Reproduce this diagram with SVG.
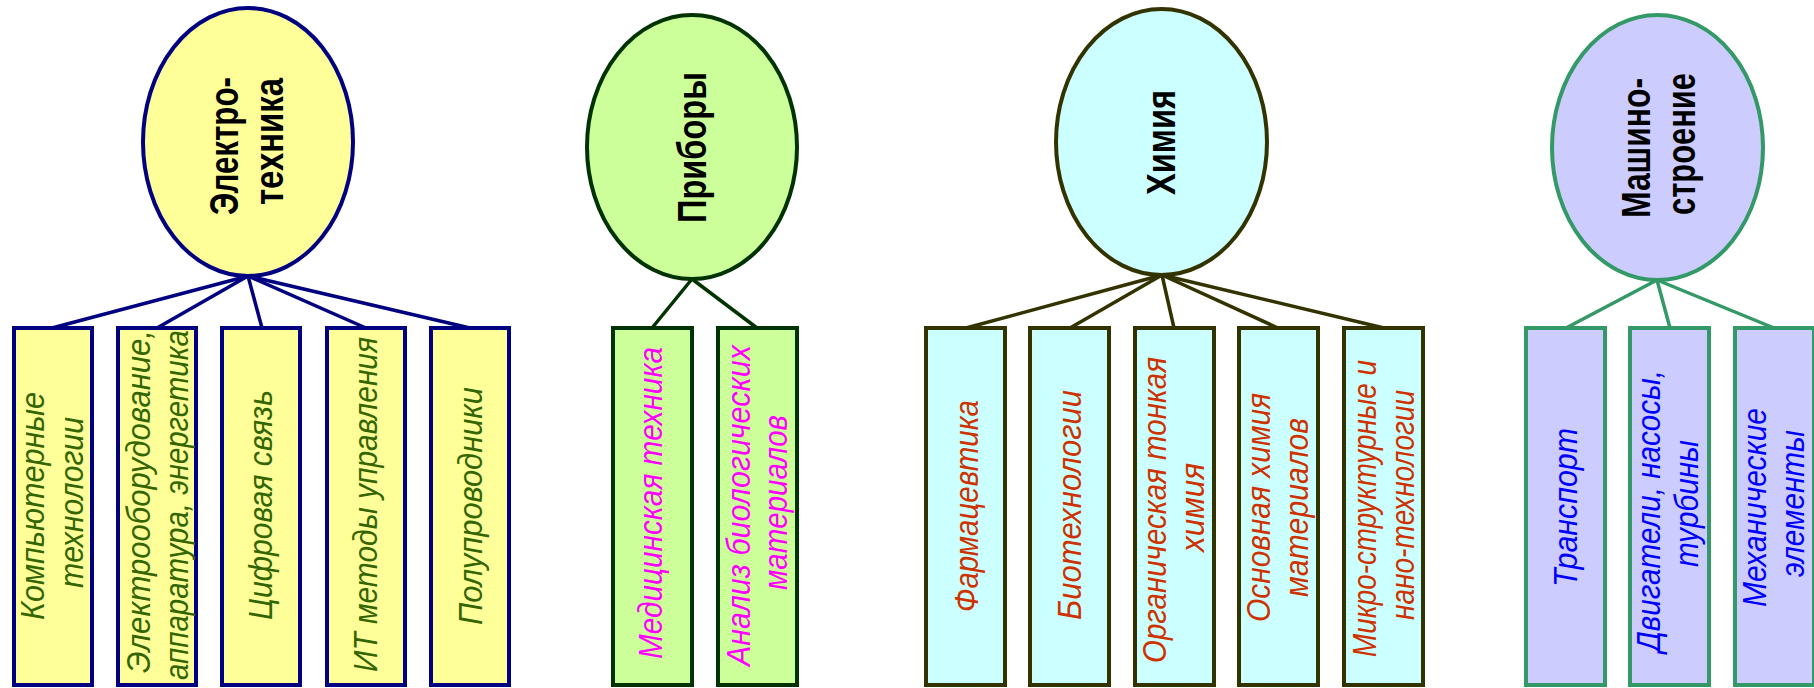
<svg xmlns="http://www.w3.org/2000/svg" width="1814" height="688" viewBox="0 0 1814 688">
<style>
  .e1{fill:#FFFF99;stroke:#000080;stroke-width:4}
  .e2{fill:#CCFF99;stroke:#003300;stroke-width:4}
  .e3{fill:#CCFFFF;stroke:#333300;stroke-width:4}
  .e4{fill:#CCCCFF;stroke:#339966;stroke-width:4}
  .c1{stroke:#000080;stroke-width:3.5;fill:none}
  .c2{stroke:#003300;stroke-width:3.5;fill:none}
  .c3{stroke:#333300;stroke-width:3.5;fill:none}
  .c4{stroke:#339966;stroke-width:3.5;fill:none}
  .et{font-family:"Liberation Sans",Arial,sans-serif;font-weight:bold;font-size:40px;fill:#000}
  .bt{font-family:"Liberation Sans",Arial,sans-serif;font-style:italic;font-size:33px}
  .t1{fill:#336600}.t2{fill:#FF00FF}.t3{fill:#CC3300}.t4{fill:#0000FF}
</style>
<g id="connectors">
  <g class="c1">
    <line x1="248" y1="276" x2="52" y2="328"/>
    <line x1="248" y1="276" x2="157" y2="328"/>
    <line x1="248" y1="276" x2="262" y2="328"/>
    <line x1="248" y1="276" x2="366" y2="328"/>
    <line x1="248" y1="276" x2="470" y2="328"/>
  </g>
  <g class="c2">
    <line x1="692" y1="279" x2="652" y2="328"/>
    <line x1="692" y1="279" x2="757" y2="328"/>
  </g>
  <g class="c3">
    <line x1="1162" y1="275" x2="966" y2="328"/>
    <line x1="1162" y1="275" x2="1070" y2="328"/>
    <line x1="1162" y1="275" x2="1174" y2="328"/>
    <line x1="1162" y1="275" x2="1278" y2="328"/>
    <line x1="1162" y1="275" x2="1384" y2="328"/>
  </g>
  <g class="c4">
    <line x1="1657" y1="280" x2="1566" y2="328"/>
    <line x1="1657" y1="280" x2="1670" y2="328"/>
    <line x1="1657" y1="280" x2="1774" y2="328"/>
  </g>
</g>
<g id="n-elektrotehnika">
  <ellipse class="e1" cx="248" cy="142" rx="105" ry="134"/>
  <text class="et" transform="translate(238,215) rotate(-90)" textLength="138" lengthAdjust="spacingAndGlyphs">Электро-</text>
  <text class="et" transform="translate(283,205) rotate(-90)" textLength="127" lengthAdjust="spacingAndGlyphs">техника</text>
</g>
<g id="n-komp">
  <rect class="e1" x="14" y="328" width="78" height="357"/>
  <text class="bt t1" transform="translate(44,620) rotate(-90)" textLength="228" lengthAdjust="spacingAndGlyphs">Компьютерные</text>
  <text class="bt t1" transform="translate(83,588) rotate(-90)" textLength="171" lengthAdjust="spacingAndGlyphs">технологии</text>
</g>
<g id="n-elektroob">
  <rect class="e1" x="118" y="328" width="78" height="357"/>
  <text class="bt t1" transform="translate(150,673) rotate(-90)" textLength="343" lengthAdjust="spacingAndGlyphs">Электрооборудование,</text>
  <text class="bt t1" transform="translate(188,680) rotate(-90)" textLength="350" lengthAdjust="spacingAndGlyphs">аппаратура, энергетика</text>
</g>
<g id="n-cifr">
  <rect class="e1" x="222" y="328" width="78" height="357"/>
  <text class="bt t1" transform="translate(272,620) rotate(-90)" textLength="230" lengthAdjust="spacingAndGlyphs">Цифровая связь</text>
</g>
<g id="n-it">
  <rect class="e1" x="327" y="328" width="78" height="357"/>
  <text class="bt t1" transform="translate(377,672) rotate(-90)" textLength="335" lengthAdjust="spacingAndGlyphs">ИТ методы управления</text>
</g>
<g id="n-polu">
  <rect class="e1" x="431" y="328" width="78" height="357"/>
  <text class="bt t1" transform="translate(482,625) rotate(-90)" textLength="238" lengthAdjust="spacingAndGlyphs">Полупроводники</text>
</g>
<g id="n-pribory">
  <ellipse class="e2" cx="692" cy="147" rx="105" ry="132"/>
  <text class="et" transform="translate(706,223) rotate(-90)" textLength="151" lengthAdjust="spacingAndGlyphs">Приборы</text>
</g>
<g id="n-med">
  <rect class="e2" x="613" y="328" width="79" height="357"/>
  <text class="bt t2" transform="translate(662,659) rotate(-90)" textLength="312" lengthAdjust="spacingAndGlyphs">Медицинская техника</text>
</g>
<g id="n-analiz">
  <rect class="e2" x="718" y="328" width="79" height="357"/>
  <text class="bt t2" transform="translate(750,666) rotate(-90)" textLength="321" lengthAdjust="spacingAndGlyphs">Анализ биологических</text>
  <text class="bt t2" transform="translate(787,590) rotate(-90)" textLength="175" lengthAdjust="spacingAndGlyphs">материалов</text>
</g>
<g id="n-himiya">
  <ellipse class="e3" cx="1161.5" cy="142" rx="105.5" ry="133"/>
  <text class="et" transform="translate(1175,195) rotate(-90)" textLength="105" lengthAdjust="spacingAndGlyphs">Химия</text>
</g>
<g id="n-farm">
  <rect class="e3" x="926" y="328" width="79" height="357"/>
  <text class="bt t3" transform="translate(978,612) rotate(-90)" textLength="212" lengthAdjust="spacingAndGlyphs">Фармацевтика</text>
</g>
<g id="n-bio">
  <rect class="e3" x="1030" y="328" width="79" height="357"/>
  <text class="bt t3" transform="translate(1081,620) rotate(-90)" textLength="230" lengthAdjust="spacingAndGlyphs">Биотехнологии</text>
</g>
<g id="n-org">
  <rect class="e3" x="1135" y="328" width="79" height="357"/>
  <text class="bt t3" transform="translate(1166,663) rotate(-90)" textLength="306" lengthAdjust="spacingAndGlyphs">Органическая тонкая</text>
  <text class="bt t3" transform="translate(1204,552) rotate(-90)" textLength="89" lengthAdjust="spacingAndGlyphs">химия</text>
</g>
<g id="n-osn">
  <rect class="e3" x="1239" y="328" width="79" height="357"/>
  <text class="bt t3" transform="translate(1270,622) rotate(-90)" textLength="229" lengthAdjust="spacingAndGlyphs">Основная химия</text>
  <text class="bt t3" transform="translate(1308,597) rotate(-90)" textLength="179" lengthAdjust="spacingAndGlyphs">материалов</text>
</g>
<g id="n-mikro">
  <rect class="e3" x="1344" y="328" width="79" height="357"/>
  <text class="bt t3" transform="translate(1376,657) rotate(-90)" textLength="297" lengthAdjust="spacingAndGlyphs">Микро-структурные и</text>
  <text class="bt t3" transform="translate(1414,620) rotate(-90)" textLength="230" lengthAdjust="spacingAndGlyphs">нано-технологии</text>
</g>
<g id="n-mash">
  <ellipse class="e4" cx="1657.5" cy="147.5" rx="105.5" ry="132.5"/>
  <text class="et" transform="translate(1650,218) rotate(-90)" textLength="140" lengthAdjust="spacingAndGlyphs">Машино-</text>
  <text class="et" transform="translate(1695,215) rotate(-90)" textLength="142" lengthAdjust="spacingAndGlyphs">строение</text>
</g>
<g id="n-trans">
  <rect class="e4" x="1526" y="328" width="79" height="357"/>
  <text class="bt t4" transform="translate(1577,587) rotate(-90)" textLength="159" lengthAdjust="spacingAndGlyphs">Транспорт</text>
</g>
<g id="n-dvig">
  <rect class="e4" x="1630" y="328" width="79" height="357"/>
  <text class="bt t4" transform="translate(1660,652) rotate(-90)" textLength="282" lengthAdjust="spacingAndGlyphs">Двигатели, насосы,</text>
  <text class="bt t4" transform="translate(1698,567) rotate(-90)" textLength="127" lengthAdjust="spacingAndGlyphs">турбины</text>
</g>
<g id="n-meh">
  <rect class="e4" x="1735" y="328" width="79" height="357"/>
  <text class="bt t4" transform="translate(1766,607) rotate(-90)" textLength="199" lengthAdjust="spacingAndGlyphs">Механические</text>
  <text class="bt t4" transform="translate(1804,577) rotate(-90)" textLength="147" lengthAdjust="spacingAndGlyphs">элементы</text>
</g>
</svg>
